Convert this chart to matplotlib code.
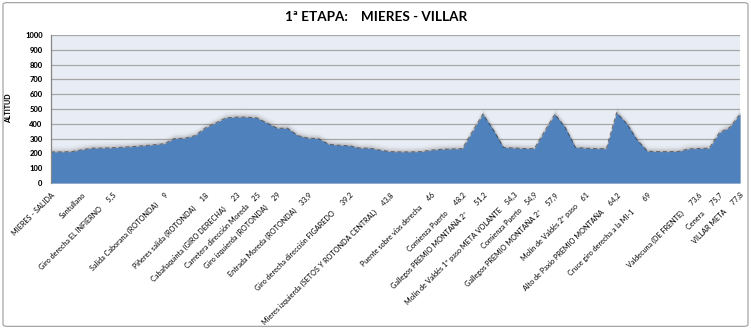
import matplotlib.pyplot as plt
from matplotlib.patches import FancyBboxPatch

# perfil de altitud, un valor por punto del recorrido
altitud = [210, 210, 212, 225, 235, 236, 238, 242, 246, 252,
           258, 265, 300, 302, 320, 372, 405, 440, 445, 445,
           440, 405, 370, 370, 320, 303, 300, 262, 255, 252,
           236, 235, 222, 212, 210, 210, 212, 222, 228, 230,
           232, 350, 465, 360, 240, 236, 233, 232, 350, 465,
           375, 240, 235, 232, 232, 475, 400, 290, 215, 212,
           212, 213, 230, 233, 235, 340, 375, 465]

# puntos del recorrido que llevan rotulo
puntos = [0, 3, 6, 11, 15, 18, 20, 22, 25, 29, 33, 37,
          40, 42, 45, 47, 49, 52, 55, 58, 63, 65, 67]
rotulos = [
    'MIERES - SALIDA',
    'Santullano',
    'Giro derecha EL INFIERNO     5,5',
    'Salida Caborana (ROTONDA)     9',
    'Piñeres salida (ROTONDA)     18',
    'Cabañaquinta (GIRO DERECHA)      23',
    'Carretera dirección Moreda    25',
    'Giro izquierda (ROTONDA)     29',
    'Entrada Moreda (ROTONDA)    33,9',
    'Giro derecha dirección FIGAREDO      39,2',
    'Mieres izquierda (SETOS Y ROTONDA CENTRAL)     43,8',
    'Puente sobre vías derecha     46',
    'Comienza Puerto      48,2',
    'Gallegos PREMIO MONTAÑA 2ª       51,2',
    'Molín de Valdés 1º paso META VOLANTE    54,3',
    'Comienza Puerto    54,9',
    'Gallegos PREMIO MONTAÑA 2ª     57,9',
    'Molín de Valdés 2º paso    61',
    'Alto de Paxío PREMIO MONTAÑA     64,2',
    'Cruce giro derecha a la MI-1        69',
    'Valdecuna (DE FRENTE)      73,6',
    'Cenera      75,7',
    'VILLAR META     77,8',
]

plt.rcParams['font.family'] = ['Lato', 'DejaVu Sans']

x = list(range(len(altitud)))
etiquetas = [''] * len(altitud)
for p, r in zip(puntos, rotulos):
    etiquetas[p] = r

fig = plt.figure(figsize=(7.51, 3.29), dpi=100)
ax = fig.add_axes([51 / 751, 1 - 183 / 329, 689 / 751, 148 / 329])
ax.set_facecolor('#E8ECF4')

# marco exterior del grafico
fig.patches.append(FancyBboxPatch((0.004, 0.008), 0.992, 0.984,
                                  boxstyle='round,pad=0,rounding_size=0.006',
                                  transform=fig.transFigure, fill=False,
                                  edgecolor='#A6A6A6', linewidth=0.9))

for y in range(100, 1001, 100):
    ax.axhline(y, color='#A6A6A6', linewidth=0.9, zorder=1)

# sombra difusa sobre el perfil
for desp, a in [(6, 0.05), (4, 0.1), (2.5, 0.16), (1.2, 0.25)]:
    ax.fill_between(x, [v + desp * 6.76 for v in altitud], 0,
                    color='#7A7A7A', alpha=a, linewidth=0, zorder=2)
ax.fill_between(x, altitud, 0, color='#4F81BD', linewidth=0, zorder=3)
ax.plot(x, altitud, color='#1A1A1A', linewidth=0.7, dashes=(4, 3),
        alpha=0.55, zorder=4)

ax.set_xlim(0, len(altitud) - 1)
ax.set_ylim(0, 1000)
ax.set_yticks(range(0, 1001, 100))
ax.tick_params(axis='y', length=0, pad=6, labelsize=5.5)
for t in ax.get_yticklabels():
    t.set_fontweight('black')
ax.set_xticks(x)
ax.set_xticklabels(etiquetas, rotation=45, ha='right', va='top',
                   rotation_mode='anchor', fontsize=5.2)
ax.tick_params(axis='x', length=0, pad=6)

for s in ['top', 'right', 'bottom']:
    ax.spines[s].set_visible(False)
ax.spines['left'].set_color('#868686')
ax.spines['left'].set_linewidth(0.9)
ax.spines['left'].set_zorder(5)

fig.text(376 / 751, 1 - 17 / 329, '1ª ETAPA:    MIERES - VILLAR',
         ha='center', va='center', fontsize=9.7, fontweight='bold')
fig.text(9 / 751, 1 - 108 / 329, 'ALTITUD', rotation=90, ha='center',
         va='center', fontsize=5, fontweight='black')

fig.savefig('out.png', dpi=100)
